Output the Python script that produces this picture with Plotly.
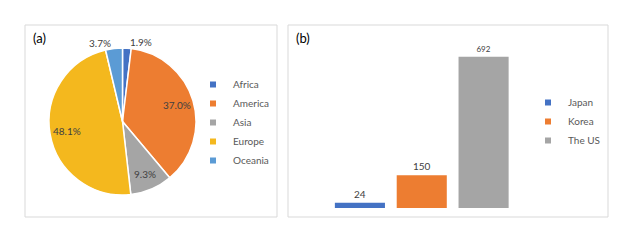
import math
import plotly.graph_objects as go

# ---- data ----
regions = ["Africa", "America", "Asia", "Europe", "Oceania"]
region_share = [1.9, 37.0, 9.3, 48.1, 3.7]
region_colors = ["#4472C4", "#ED7D31", "#A5A5A5", "#F4B81E", "#5B9BD5"]
region_inside = [False, True, True, True, False]

countries = ["Japan", "Korea", "The US"]
country_values = [24, 150, 692]
country_colors = ["#4472C4", "#ED7D31", "#A5A5A5"]
country_label_size = [10, 10, 8]

W, H = 633, 242
FONT = "Lato"
LABEL = "#404040"
def px(x): return x / W
def py(y): return 1 - y / H

# pie geometry (pixels)
PIE_L, PIE_R, PIE_T, PIE_B = 49, 196, 48, 195
cx, cy = (PIE_L + PIE_R) / 2, (PIE_T + PIE_B) / 2
rad = (PIE_R - PIE_L) / 2

fig = go.Figure()

fig.add_trace(go.Pie(
    labels=regions, values=region_share, sort=False, direction="clockwise",
    marker=dict(colors=region_colors, line=dict(color="white", width=1.5)),
    texttemplate="%{value:.1f}%",
    textposition=["none" if i else "outside" for i in region_inside],
    textfont=dict(family=FONT, size=10, color=LABEL),
    domain=dict(x=[px(PIE_L), px(PIE_R)], y=[py(PIE_B), py(PIE_T)]),
    showlegend=False, hoverinfo="label+value",
))

annotations = []
total = sum(region_share)
cum = 0.0
for v, inside in zip(region_share, region_inside):
    mid = (cum + v / 2) / total * 2 * math.pi
    cum += v
    if inside:
        f = 0.77
        annotations.append(dict(
            text=f"{v:.1f}%", x=px(cx + f * rad * math.sin(mid)),
            y=py(cy - f * rad * math.cos(mid)), xref="paper", yref="paper",
            xanchor="center", yanchor="middle",
            showarrow=False, font=dict(family=FONT, size=10, color=LABEL)))

for r, c in zip(regions, region_colors):
    fig.add_trace(go.Scatter(x=[None], y=[None], mode="markers", name=r,
                             marker=dict(symbol="square", size=6, color=c),
                             xaxis="x2", yaxis="y2", legend="legend"))

fig.add_trace(go.Bar(
    x=countries, y=country_values,
    marker=dict(color=country_colors, line=dict(width=0)),
    texttemplate="%{y}", textposition="outside",
    textfont=dict(family=FONT, size=country_label_size, color=LABEL),
    cliponaxis=False, showlegend=False, width=0.81,
))
for r, c in zip(countries, country_colors):
    fig.add_trace(go.Scatter(x=[None], y=[None], mode="markers", name=r,
                             marker=dict(symbol="square", size=6, color=c),
                             xaxis="x2", yaxis="y2", legend="legend2"))

shapes = [
    dict(type="rect", xref="paper", yref="paper", x0=px(25), x1=px(277),
         y0=py(217), y1=py(25), line=dict(color="#D9D9D9", width=1)),
    dict(type="rect", xref="paper", yref="paper", x0=px(288), x1=px(608),
         y0=py(217), y1=py(25), line=dict(color="#D9D9D9", width=1)),
]
annotations += [
    dict(text="(a)", x=px(31), y=py(38), xref="paper", yref="paper",
         xanchor="left", yanchor="middle", showarrow=False,
         font=dict(family=FONT, size=13, color="#000000")),
    dict(text="(b)", x=px(294), y=py(38), xref="paper", yref="paper",
         xanchor="left", yanchor="middle", showarrow=False,
         font=dict(family=FONT, size=13, color="#000000")),
]

fig.update_layout(
    width=W, height=H, margin=dict(l=0, r=0, t=0, b=0),
    paper_bgcolor="white", plot_bgcolor="white",
    font=dict(family=FONT, size=10, color="#595959"),
    xaxis=dict(domain=[px(329), px(514.5)], showgrid=False, showline=False,
               showticklabels=False, ticks="", zeroline=False),
    yaxis=dict(domain=[py(208), py(42)], range=[0, 760], showgrid=False,
               showline=False, showticklabels=False, zeroline=False),
    xaxis2=dict(domain=[0, 0.01], visible=False),
    yaxis2=dict(domain=[0, 0.01], visible=False),
    legend=dict(x=px(193), y=py(70), xanchor="left", yanchor="top",
                bgcolor="rgba(0,0,0,0)", font=dict(family=FONT, size=10, color="#595959"),
                tracegroupgap=0, itemwidth=30),
    legend2=dict(x=px(528), y=py(88), xanchor="left", yanchor="top",
                 bgcolor="rgba(0,0,0,0)", font=dict(family=FONT, size=10, color="#595959"),
                 tracegroupgap=0, itemwidth=30),
    shapes=shapes, annotations=annotations, bargap=0.19,
)

fig.write_html("out.html", config={"displayModeBar": False},
               post_script="document.body.style.margin='0px';")
